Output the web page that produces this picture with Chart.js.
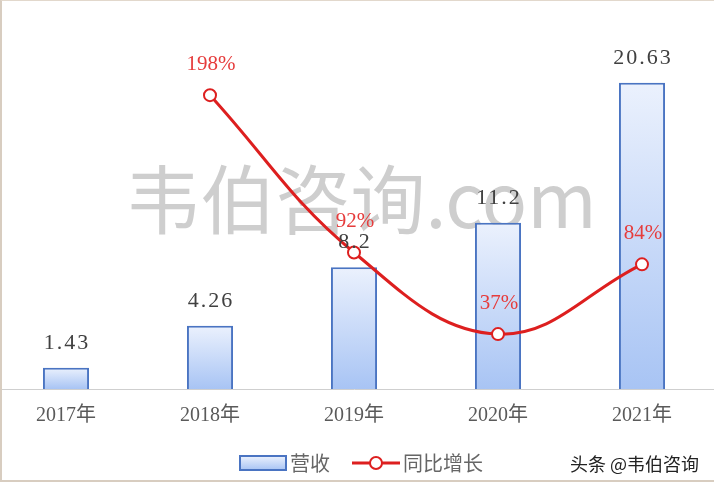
<!DOCTYPE html>
<html>
<head>
<meta charset="utf-8">
<script src="https://cdn.jsdelivr.net/npm/chart.js@4.4.0/dist/chart.umd.min.js"></script>
<style>
  html, body { margin: 0; padding: 0; background: #fff; overflow: hidden; }
  #frame { position: relative; width: 714px; height: 482px; overflow: hidden; }
  #wrap { position: absolute; left: -6px; top: 0; width: 720px; height: 482px; }
  #edge { position: absolute; left: 0; top: 0; width: 714px; height: 482px; box-sizing: border-box;
          border-left: 2px solid #d8cdc0; border-top: 1px solid #e2d8cc; border-bottom: 2px solid #d8cdc0;
          pointer-events: none; }
</style>
</head>
<body>
<div id="frame">
  <div id="wrap"><canvas id="chart"></canvas></div>
  <div id="edge"></div>
</div>
<script>
const years = ["2017年", "2018年", "2019年", "2020年", "2021年"];
const revenue = [1.43, 4.26, 8.2, 11.2, 20.63];
const growth = [null, 198, 92, 37, 84];
const growthLabels = ["", "198%", "92%", "37%", "84%"];

const SHIFT = 6; // canvas starts 6px left of the page
const RED = "#dd1f1f";
const BLUE = "#4a74c2";

function barGradient(ctx, top, bottom) {
  const g = ctx.createLinearGradient(0, top, 0, bottom);
  g.addColorStop(0, "#ebf1fd");
  g.addColorStop(1, "#a8c4f4");
  return g;
}

// value labels, watermark and legend
const decorPlugin = {
  id: "decor",
  beforeDatasetsDraw(chart) {
    const ctx = chart.ctx;
    ctx.save();
    ctx.font = '75px "Noto Sans CJK SC"';
    ctx.fillStyle = "rgba(165,165,165,0.55)";
    ctx.textAlign = "center";
    ctx.textBaseline = "middle";
    ctx.fillText("韦伯咨询.com", 361 + SHIFT, 199);
    ctx.restore();
  },
  afterDatasetsDraw(chart) {
    const ctx = chart.ctx;
    ctx.save();
    ctx.textAlign = "center";
    ctx.textBaseline = "middle";
    ctx.letterSpacing = "2px";
    ctx.font = '22px "Liberation Serif", "Noto Sans CJK SC"';
    ctx.fillStyle = "#404040";
    chart.getDatasetMeta(0).data.forEach((bar, i) => {
      ctx.fillText(String(revenue[i]), bar.x + 1, bar.y - 25);
    });
    ctx.letterSpacing = "0px";
    ctx.font = '21px "Liberation Serif", "Noto Sans CJK SC"';
    ctx.fillStyle = "#e63c3c";
    chart.getDatasetMeta(1).data.forEach((pt, i) => {
      if (growth[i] === null) return;
      ctx.fillText(growthLabels[i], pt.x + 1, pt.y - 31);
    });
    ctx.restore();
  },
  afterDraw(chart) {
    const ctx = chart.ctx;
    const ly = 463;
    ctx.save();
    // legend: bar
    ctx.fillStyle = barGradient(ctx, 456, 470);
    ctx.fillRect(240 + SHIFT, 456, 46, 14);
    ctx.strokeStyle = BLUE;
    ctx.lineWidth = 2;
    ctx.strokeRect(240 + SHIFT, 456, 46, 14);
    ctx.font = '20px "Noto Sans CJK SC"';
    ctx.fillStyle = "#666";
    ctx.textBaseline = "middle";
    ctx.textAlign = "left";
    ctx.fillText("营收", 290 + SHIFT, ly);
    // legend: line
    ctx.strokeStyle = RED;
    ctx.lineWidth = 3;
    ctx.beginPath();
    ctx.moveTo(352 + SHIFT, ly);
    ctx.lineTo(400 + SHIFT, ly);
    ctx.stroke();
    ctx.beginPath();
    ctx.arc(376 + SHIFT, ly, 6, 0, Math.PI * 2);
    ctx.fillStyle = "#fff";
    ctx.fill();
    ctx.lineWidth = 2;
    ctx.stroke();
    ctx.fillStyle = "#666";
    ctx.fillText("同比增长", 403 + SHIFT, ly);
    // site mark bottom right
    ctx.font = '18px "Noto Sans CJK SC"';
    ctx.lineWidth = 3;
    ctx.strokeStyle = "#fff";
    ctx.strokeText("头条 @韦伯咨询", 570 + SHIFT, 464);
    ctx.fillStyle = "#222";
    ctx.fillText("头条 @韦伯咨询", 570 + SHIFT, 464);
    ctx.restore();
  }
};

new Chart(document.getElementById("chart"), {
  data: {
    labels: years,
    datasets: [
      {
        type: "bar",
        label: "营收",
        data: revenue,
        yAxisID: "y",
        order: 2,
        borderColor: BLUE,
        borderWidth: 2,
        borderSkipped: "bottom",
        categoryPercentage: 1,
        barPercentage: 0.32,
        backgroundColor: (c) => {
          const chart = c.chart;
          if (!chart.chartArea || c.type !== "data") return "#c6d8f8";
          const y = chart.scales.y;
          return barGradient(chart.ctx, y.getPixelForValue(c.raw), y.getPixelForValue(0));
        },
      },
      {
        type: "line",
        label: "同比增长",
        data: growth,
        yAxisID: "y1",
        order: 1,
        borderColor: RED,
        borderWidth: 3,
        tension: 0.4,
        pointRadius: 6,
        pointBorderWidth: 2,
        pointBackgroundColor: "#fff",
        pointBorderColor: RED,
      },
    ],
  },
  options: {
    responsive: true,
    maintainAspectRatio: false,
    animation: false,
    layout: { autoPadding: false, padding: { top: 18, left: 0, right: 0, bottom: 0 } },
    plugins: {
      legend: { display: false },
      tooltip: { enabled: false },
    },
    scales: {
      x: {
        grid: { display: false, drawTicks: false },
        border: { display: true, color: "#cfcfcf", width: 1 },
        ticks: {
          padding: 15,
          color: "#5a5a5a",
          font: { family: '"Liberation Serif", "Noto Sans CJK SC"', size: 20 },
        },
        afterFit(scale) { scale.height = 93; },
      },
      y: { display: false, min: 0, max: 25 },
      y1: { display: false, position: "right", min: 0, max: 250 },
    },
  },
  plugins: [decorPlugin],
});
</script>
</body>
</html>
